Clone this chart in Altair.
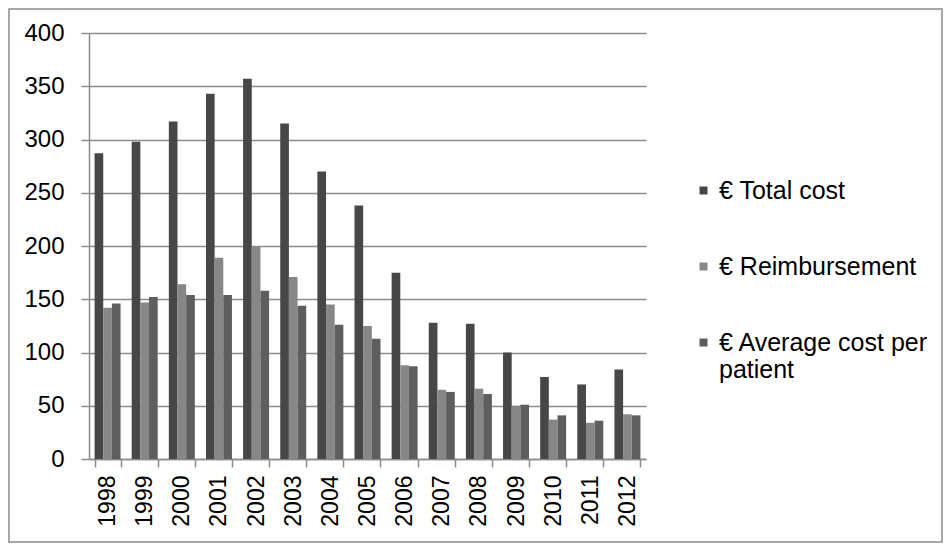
import altair as alt
import pandas as pd

years = ["1998", "1999", "2000", "2001", "2002", "2003", "2004", "2005",
         "2006", "2007", "2008", "2009", "2010", "2011", "2012"]
total_cost = [287, 298, 317, 343, 357, 315, 270, 238, 175, 128, 127, 100, 77, 70, 84]
reimbursement = [142, 147, 164, 189, 199, 171, 145, 125, 88, 65, 66, 50, 37, 34, 42]
avg_cost = [146, 152, 154, 154, 158, 144, 126, 113, 87, 63, 61, 51, 41, 36, 41]

series = ["€ Total cost", "€ Reimbursement", "€ Average cost per patient"]
colors = ["#474747", "#878787", "#5e5e5e"]

rows = []
for i, y in enumerate(years):
    for s, vals in zip(series, [total_cost, reimbursement, avg_cost]):
        rows.append({"Year": y, "Series": s, "Value": vals[i]})
df = pd.DataFrame(rows)

W, H = 557, 426
PL, PT, PR, PB = 81, 25, 297, 84

font = "Liberation Sans"

bars = alt.Chart(df).mark_bar().encode(
    x=alt.X("Year:N", sort=years,
            scale=alt.Scale(paddingInner=0.3, paddingOuter=0.15),
            axis=alt.Axis(title=None, labelAngle=-90, labelFontSize=23,
                          labelFont=font, labelColor="#000000", labelPadding=8,
                          tickBand="extent", tickSize=8, tickColor="#8c8c8c",
                          tickWidth=1.5, domainColor="#8c8c8c", domainWidth=1.5,
                          grid=False)),
    xOffset=alt.XOffset("Series:N", sort=series,
                        scale=alt.Scale(paddingInner=0, paddingOuter=0)),
    y=alt.Y("Value:Q",
            scale=alt.Scale(domain=[0, 400], nice=False),
            axis=alt.Axis(title=None, values=list(range(0, 401, 50)),
                          labelFontSize=24, labelFont=font, labelColor="#000000",
                          labelPadding=17, tickSize=8, tickColor="#8c8c8c",
                          tickWidth=1.5, domainColor="#8c8c8c", domainWidth=1.5,
                          gridColor="#8c8c8c", gridWidth=1.5)),
    color=alt.Color("Series:N", sort=series,
                    scale=alt.Scale(domain=series, range=colors),
                    legend=alt.Legend(
                        title=None, orient="none", legendX=602, legendY=145,
                        symbolType="square", symbolSize=64, symbolStrokeWidth=0,
                        labelFontSize=25, labelFont=font, labelColor="#000000",
                        labelOffset=3, rowPadding=50, labelLimit=330,
                        labelExpr="datum.label == '€ Average cost per patient' ? ['€ Average cost per', 'patient'] : datum.label")),
)

border = alt.Chart(pd.DataFrame({"a": [0]})).mark_rect(
    fill=None, stroke="#8c8c8c", strokeWidth=1.5
).encode(
    x=alt.value(-PL + 1), x2=alt.value(W + PR - 1),
    y=alt.value(-PT + 1), y2=alt.value(H + PB - 1),
)

chart = alt.layer(bars, border).properties(
    width=W, height=H,
    autosize=alt.AutoSizeParams(type="none"),
    padding={"left": PL, "top": PT, "right": PR, "bottom": PB},
).configure_view(stroke=None)

chart.save("out.html", embed_options={"renderer": "svg", "actions": False})
